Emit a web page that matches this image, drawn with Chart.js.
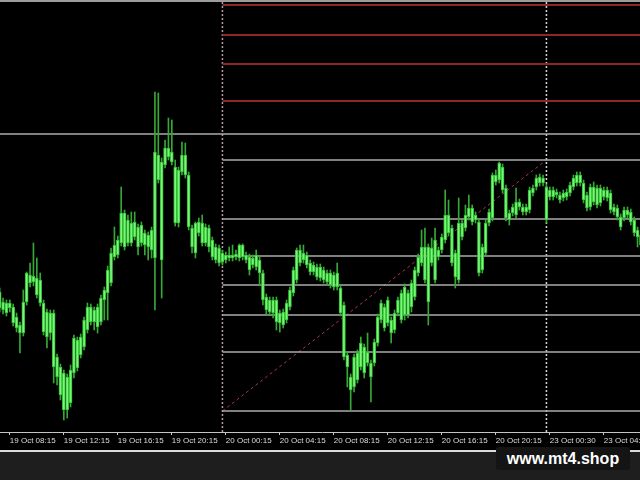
<!DOCTYPE html>
<html lang="en">
<head>
  <meta charset="UTF-8">
  <title>M15 chart with Fibonacci levels</title>
  <style>
    html, body {
      margin: 0;
      padding: 0;
      width: 640px;
      height: 480px;
      overflow: hidden;
      background-color: #1e1e1e;
      font-family: "Liberation Sans", Arial, sans-serif;
    }

    #plot {
      position: absolute;
      left: 0;
      top: 0;
      width: 640px;
      height: 452px;
      box-sizing: border-box;
      background-color: #000;
      border-top: 2px solid #9c9c9c;
      border-bottom: 2px solid #dcdcdc;
    }

    #wrap {
      position: absolute;
      left: -2px;
      top: 0;
      width: 648px;
      height: 480px;
    }

    .mark {
      position: absolute;
      left: 496px;
      top: 447px;
      width: 134px;
      height: 23px;
      line-height: 23px;
      background-color: #141414;
      border-radius: 3px;
      color: #fff;
      font-weight: bold;
      font-size: 16px;
      text-align: center;
    }
  </style>
</head>
<body>
  <div id="plot"></div>
  <div id="wrap"><canvas id="chart" width="648" height="480"></canvas></div>
  <div class="mark">www.mt4.shop</div>

  <script src="https://cdn.jsdelivr.net/npm/chart.js"></script>
  <script>
    // M15 sessions shown on the chart (weekend gap between 20 and 23 Oct)
    const sessions = [
      { day: '19 Oct', from: '07:30', to: '23:45' },
      { day: '20 Oct', from: '00:00', to: '23:45' },
      { day: '23 Oct', from: '00:15', to: '07:30' }
    ];

    const tickLabels = [
      '19 Oct 08:15', '19 Oct 12:15', '19 Oct 16:15', '19 Oct 20:15',
      '20 Oct 00:15', '20 Oct 04:15', '20 Oct 08:15', '20 Oct 12:15',
      '20 Oct 16:15', '20 Oct 20:15', '23 Oct 00:30', '23 Oct 04:30'
    ];

    const open = [
      1970.8, 1969.8, 1968.7, 1969.7, 1969.3, 1968.3, 1966.7, 1966.7, 1969.8, 1972.5,
      1971.8, 1972.2, 1972.0, 1969.7, 1968.8, 1966.7, 1968.7, 1964.3, 1963.3, 1962.7,
      1959.0, 1959.7, 1962.7, 1963.2, 1964.5, 1965.3, 1967.0, 1969.3, 1967.8, 1969.3,
      1967.8, 1970.0, 1970.7, 1971.7, 1974.3, 1974.5, 1975.7, 1978.7, 1975.7, 1977.7,
      1976.3, 1977.3, 1975.7, 1976.7, 1976.5, 1975.0, 1974.2, 1984.5, 1983.8, 1983.5,
      1985.2, 1984.8, 1983.3, 1977.7, 1982.8, 1984.5, 1982.5, 1977.2, 1974.7, 1977.8,
      1977.7, 1975.7, 1977.2, 1976.0, 1975.3, 1973.7, 1974.7, 1974.0, 1974.5, 1974.2,
      1974.3, 1974.2, 1975.5, 1974.5, 1974.3, 1973.5, 1974.5, 1974.0, 1972.7, 1970.3,
      1968.8, 1970.0, 1970.0, 1967.7, 1967.5, 1968.0, 1969.3, 1970.7, 1972.0, 1975.0,
      1974.0, 1974.5, 1973.7, 1972.8, 1973.3, 1972.2, 1973.0, 1972.7, 1971.5, 1972.5,
      1971.3, 1971.2, 1969.5, 1964.5, 1962.3, 1961.3, 1962.0, 1965.7, 1962.7, 1964.8,
      1962.3, 1963.7, 1965.7, 1968.0, 1969.3, 1967.7, 1968.0, 1967.0, 1968.7, 1970.7,
      1968.5, 1970.7, 1969.3, 1970.3, 1972.7, 1973.7, 1975.3, 1969.8, 1975.2, 1972.0,
      1975.0, 1975.0, 1976.0, 1978.5, 1977.2, 1974.7, 1972.0, 1977.7, 1977.2, 1978.3,
      1979.2, 1978.0, 1977.8, 1973.0, 1974.7, 1977.7, 1978.2, 1982.5, 1982.0, 1983.3,
      1981.2, 1978.0, 1978.7, 1978.5, 1979.8, 1979.3, 1978.8, 1979.0, 1980.7, 1981.3,
      1981.7, 1982.2, 1978.0, 1981.0, 1980.3, 1980.8, 1980.5, 1980.2, 1980.3, 1980.7,
      1981.3, 1981.7, 1982.5, 1981.7, 1980.5, 1979.3, 1981.3, 1979.5, 1981.2, 1980.3,
      1981.0, 1980.7, 1979.3, 1979.2, 1978.3, 1978.2, 1979.0, 1978.8, 1978.0, 1977.0,
      1976.5, 1976.2
    ];

    const high = [
      1971.2, 1970.2, 1970.0, 1970.0, 1969.6, 1968.7, 1967.8, 1971.0, 1972.8, 1973.7,
      1975.7, 1974.2, 1972.7, 1970.0, 1969.1, 1969.0, 1969.0, 1964.6, 1963.6, 1963.0,
      1962.6, 1963.5, 1966.5, 1966.3, 1966.6, 1968.3, 1969.7, 1969.6, 1969.3, 1969.6,
      1970.5, 1971.3, 1973.4, 1975.2, 1977.3, 1976.4, 1981.3, 1979.0, 1978.5, 1978.8,
      1978.8, 1977.6, 1977.8, 1977.0, 1976.8, 1977.3, 1990.8, 1990.7, 1984.2, 1986.0,
      1988.2, 1988.0, 1984.0, 1983.3, 1985.8, 1985.7, 1982.8, 1977.5, 1977.8, 1978.2,
      1978.5, 1977.6, 1977.5, 1976.3, 1975.6, 1975.5, 1975.0, 1974.8, 1975.3, 1975.5,
      1975.0, 1975.6, 1975.6, 1974.8, 1974.6, 1974.5, 1975.0, 1974.3, 1973.0, 1970.6,
      1970.3, 1970.3, 1970.3, 1969.0, 1969.1, 1970.0, 1971.3, 1973.3, 1975.2, 1975.5,
      1975.5, 1974.8, 1974.0, 1973.8, 1973.6, 1973.6, 1973.3, 1973.0, 1973.0, 1972.8,
      1973.7, 1971.5, 1969.8, 1964.8, 1962.6, 1964.6, 1965.0, 1966.3, 1965.6, 1966.7,
      1964.0, 1966.1, 1968.6, 1970.0, 1969.6, 1970.3, 1968.3, 1969.0, 1970.3, 1971.0,
      1971.6, 1971.0, 1972.0, 1973.3, 1974.6, 1977.0, 1977.2, 1975.6, 1976.2, 1977.2,
      1975.3, 1976.6, 1981.0, 1980.0, 1977.5, 1975.0, 1980.2, 1978.0, 1979.5, 1980.5,
      1979.5, 1978.8, 1978.1, 1975.6, 1978.0, 1979.1, 1982.7, 1983.0, 1983.8, 1983.6,
      1981.5, 1979.0, 1979.6, 1981.2, 1980.1, 1979.6, 1979.6, 1981.3, 1981.5, 1982.5,
      1982.6, 1982.5, 1981.6, 1981.3, 1981.3, 1981.1, 1980.8, 1981.0, 1981.1, 1981.8,
      1982.5, 1982.8, 1982.8, 1982.0, 1980.8, 1981.6, 1981.8, 1981.5, 1981.5, 1981.3,
      1981.3, 1981.0, 1979.6, 1979.5, 1978.6, 1979.3, 1979.3, 1979.1, 1978.3, 1977.3,
      1976.8, 1976.5
    ];

    const low = [
      1968.8, 1968.6, 1968.4, 1968.8, 1967.4, 1966.8, 1964.7, 1966.4, 1969.5, 1971.3,
      1971.4, 1970.2, 1969.4, 1966.5, 1965.2, 1966.0, 1961.7, 1961.5, 1960.0, 1958.0,
      1958.2, 1959.3, 1962.2, 1962.9, 1964.2, 1965.0, 1966.7, 1967.5, 1967.0, 1966.7,
      1967.5, 1968.0, 1968.0, 1971.4, 1974.0, 1974.2, 1975.4, 1975.0, 1975.4, 1975.4,
      1976.0, 1974.5, 1975.4, 1974.5, 1974.0, 1974.2, 1969.0, 1981.7, 1970.2, 1983.2,
      1984.0, 1983.5, 1977.4, 1977.3, 1982.5, 1982.2, 1977.0, 1974.7, 1974.2, 1976.4,
      1975.4, 1975.4, 1974.8, 1974.0, 1973.7, 1973.4, 1973.5, 1973.7, 1973.9, 1973.9,
      1974.0, 1973.9, 1974.0, 1973.7, 1972.5, 1973.2, 1973.0, 1971.5, 1969.5, 1968.5,
      1968.5, 1968.2, 1967.0, 1966.8, 1967.2, 1967.7, 1969.0, 1970.4, 1971.7, 1973.4,
      1973.7, 1973.2, 1972.5, 1972.5, 1972.0, 1971.9, 1971.7, 1971.5, 1971.2, 1971.0,
      1971.0, 1968.4, 1964.0, 1961.3, 1959.0, 1960.8, 1961.7, 1963.0, 1962.2, 1963.4,
      1959.8, 1963.4, 1965.4, 1967.7, 1966.9, 1967.4, 1965.7, 1966.7, 1968.4, 1967.7,
      1968.0, 1968.2, 1968.8, 1970.0, 1972.4, 1973.4, 1971.7, 1967.5, 1973.4, 1971.7,
      1974.0, 1974.7, 1975.7, 1976.4, 1973.4, 1971.2, 1971.7, 1976.0, 1976.9, 1978.0,
      1977.5, 1977.7, 1972.4, 1972.7, 1974.4, 1977.4, 1977.9, 1981.5, 1981.7, 1980.7,
      1977.9, 1977.5, 1978.4, 1978.2, 1979.0, 1978.5, 1978.5, 1978.7, 1980.4, 1981.0,
      1981.4, 1981.4, 1977.7, 1980.0, 1980.0, 1980.2, 1979.7, 1979.9, 1980.0, 1980.4,
      1981.0, 1981.4, 1981.4, 1979.7, 1978.9, 1979.0, 1979.5, 1979.2, 1979.4, 1980.0,
      1979.9, 1978.7, 1978.5, 1978.0, 1977.0, 1977.9, 1978.2, 1977.5, 1976.4, 1975.3,
      1975.2, 1974.9
    ];

    const close = [
      1969.2, 1969.0, 1969.7, 1969.2, 1967.7, 1967.2, 1967.5, 1969.8, 1972.7, 1971.7,
      1972.4, 1970.5, 1969.7, 1966.8, 1966.3, 1968.7, 1963.3, 1962.3, 1960.5, 1959.0,
      1962.3, 1963.0, 1966.2, 1966.0, 1966.3, 1968.0, 1969.3, 1967.8, 1969.0, 1967.3,
      1970.2, 1971.0, 1973.0, 1974.7, 1975.5, 1976.0, 1978.7, 1975.3, 1978.0, 1975.7,
      1977.8, 1975.3, 1977.5, 1975.5, 1975.3, 1977.0, 1984.8, 1982.0, 1974.0, 1985.2,
      1984.3, 1983.8, 1977.7, 1983.0, 1984.5, 1982.5, 1977.3, 1975.3, 1977.7, 1976.7,
      1975.7, 1977.3, 1975.3, 1974.3, 1974.0, 1975.2, 1973.8, 1974.5, 1974.2, 1974.5,
      1974.6, 1975.5, 1974.3, 1974.0, 1973.0, 1974.2, 1973.3, 1972.7, 1970.0, 1969.0,
      1970.0, 1968.7, 1967.8, 1968.7, 1968.8, 1969.7, 1971.0, 1973.0, 1975.0, 1973.7,
      1974.7, 1973.5, 1972.8, 1973.5, 1972.3, 1973.3, 1972.0, 1971.8, 1972.7, 1971.3,
      1972.7, 1968.7, 1964.3, 1963.3, 1961.0, 1964.3, 1964.7, 1963.3, 1965.3, 1963.7,
      1963.7, 1965.8, 1968.3, 1969.7, 1967.2, 1970.0, 1966.7, 1968.7, 1970.0, 1968.0,
      1971.3, 1968.5, 1971.7, 1973.0, 1974.3, 1975.3, 1972.0, 1975.3, 1973.7, 1976.0,
      1974.3, 1976.3, 1978.5, 1976.7, 1973.7, 1972.3, 1977.7, 1976.3, 1978.5, 1979.2,
      1977.8, 1978.5, 1972.7, 1975.3, 1977.7, 1978.8, 1982.5, 1981.8, 1983.7, 1981.0,
      1978.2, 1978.7, 1979.3, 1979.8, 1979.3, 1978.8, 1979.3, 1981.0, 1981.2, 1982.2,
      1982.3, 1981.7, 1981.3, 1980.3, 1981.0, 1980.5, 1980.0, 1980.7, 1980.8, 1981.5,
      1982.2, 1982.5, 1981.7, 1980.0, 1979.2, 1981.3, 1979.8, 1981.2, 1979.7, 1981.0,
      1980.2, 1979.0, 1978.8, 1978.3, 1977.3, 1979.0, 1978.5, 1977.8, 1976.7, 1976.3,
      1975.5, 1975.2
    ];

    // Fibonacci tool: 0% .. 100% levels (gray) and extensions (red)
    const fibFrom = '20 Oct 00:00';
    const fibTo = '23 Oct 00:15';
    const fibLevels = [1958.9, 1964.8, 1968.5, 1971.5, 1974.4, 1978.1, 1984.0];
    const fibExtensions = [1989.9, 1993.6, 1996.5, 1999.5];
    const hLine = 1986.6;
    const separators = [
      { at: '20 Oct 00:00', color: '#b89aa2' },
      { at: '23 Oct 00:15', color: '#d4d4d4' }
    ];

    const yMin = 1956.8, yMax = 2000.0;

    // bar time labels
    const barTimes = [];
    sessions.forEach(s => {
      const [h0, m0] = s.from.split(':').map(Number);
      const [h1, m1] = s.to.split(':').map(Number);
      for (let t = h0 * 60 + m0; t <= h1 * 60 + m1; t += 15) {
        const hh = String(Math.floor(t / 60)).padStart(2, '0');
        const mm = String(t % 60).padStart(2, '0');
        barTimes.push(s.day + ' ' + hh + ':' + mm);
      }
    });
    const lastBar = barTimes[barTimes.length - 1];

    const lineSet = (points, color, width, dash) => ({
      type: 'line',
      data: points,
      borderColor: color,
      borderWidth: width,
      borderDash: dash || [],
      pointRadius: 0,
      fill: false,
      order: 5
    });

    const datasets = [];

    datasets.push(lineSet([{ x: barTimes[0], y: hLine }, { x: lastBar, y: hLine }], '#ababab', 1.5));
    fibLevels.forEach(v => {
      datasets.push(lineSet([{ x: fibFrom, y: v }, { x: lastBar, y: v }], '#ababab', 1.5));
    });
    fibExtensions.forEach(v => {
      datasets.push(lineSet([{ x: fibFrom, y: v }, { x: lastBar, y: v }], '#8e2626', 2));
    });
    separators.forEach(s => {
      datasets.push(lineSet([{ x: s.at, y: yMin }, { x: s.at, y: yMax }], s.color, 1.5, [2, 2]));
    });
    // trend line of the fibo tool
    datasets.push(lineSet([{ x: fibFrom, y: fibLevels[0] }, { x: fibTo, y: fibLevels[fibLevels.length - 1] }], '#a8384a', 1, [3, 3]));

    // candles: wick (low..high) and body (open..close)
    datasets.push({
      type: 'bar',
      data: high.map((h, i) => [low[i], h]),
      backgroundColor: '#36a836',
      barThickness: 1,
      grouped: false,
      order: 2
    });
    datasets.push({
      type: 'bar',
      data: open.map((o, i) => [o, close[i]]),
      backgroundColor: '#7cf57c',
      borderColor: '#2fbf2f',
      borderWidth: 1,
      borderSkipped: false,
      barThickness: 3,
      grouped: false,
      order: 1
    });

    new Chart(document.getElementById('chart'), {
      type: 'bar',
      data: { labels: barTimes, datasets: datasets },
      options: {
        responsive: false,
        animation: false,
        events: [],
        layout: { padding: 0 },
        plugins: { legend: { display: false }, tooltip: { enabled: false } },
        scales: {
          x: {
            offset: true,
            afterFit: scale => { scale.height = 48; },
            grid: {
              offset: false,
              drawOnChartArea: false,
              tickLength: 3,
              tickColor: ctx => (ctx.tick && ctx.tick.label) ? '#c8c8c8' : 'rgba(0,0,0,0)'
            },
            border: { display: true, color: '#c4c4c4', width: 1 },
            ticks: {
              autoSkip: false,
              maxRotation: 0,
              minRotation: 0,
              align: 'start',
              padding: 1,
              color: '#dcdcdc',
              font: { family: 'Liberation Sans', size: 8 },
              callback: function (value) {
                const label = this.getLabelForValue(value);
                return tickLabels.includes(label) ? label : '';
              }
            }
          },
          y: {
            display: false,
            min: yMin,
            max: yMax
          }
        }
      }
    });
  </script>
</body>
</html>
